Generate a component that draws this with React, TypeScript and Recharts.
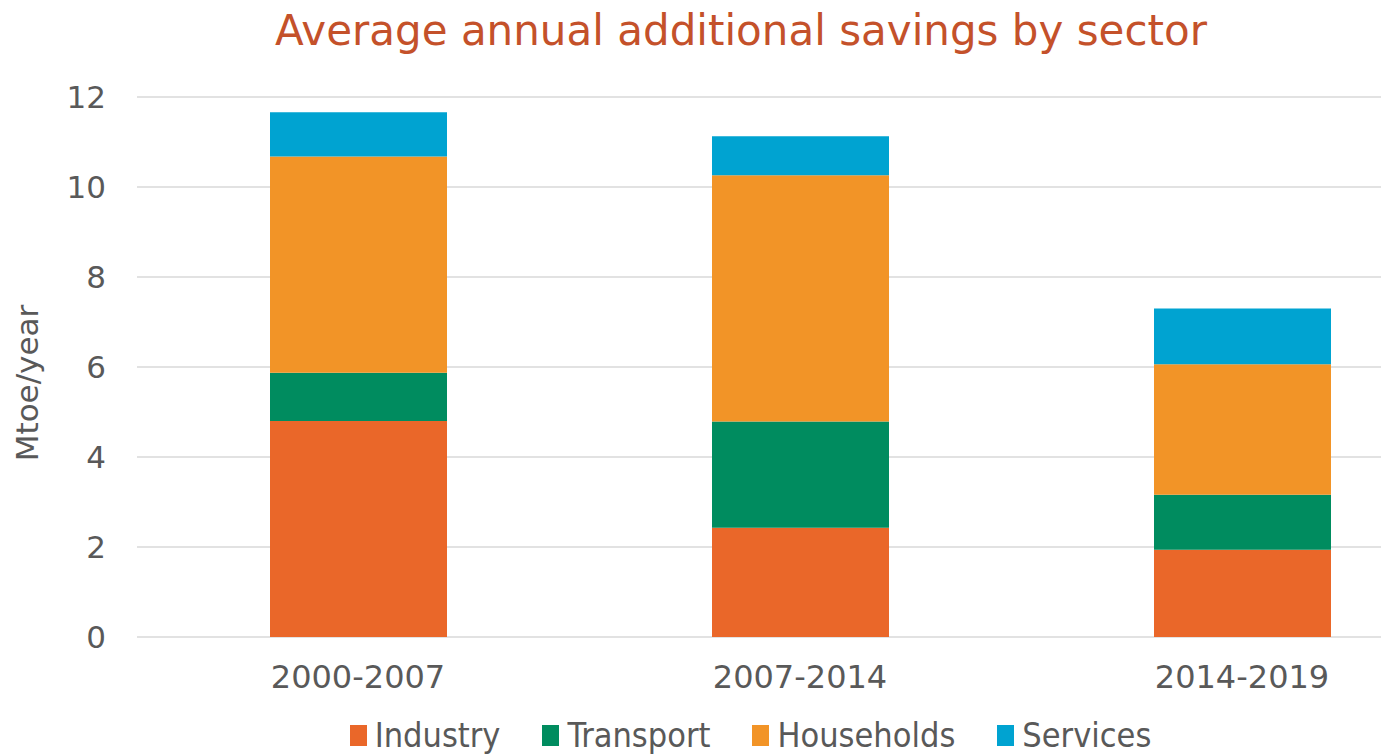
import { BarChart, Bar, XAxis, YAxis, CartesianGrid, Legend } from 'recharts'

const periods = ['2000-2007', '2007-2014', '2014-2019']
const industry = [4.8, 2.43, 1.94]
const transport = [1.07, 2.36, 1.22]
const households = [4.81, 5.47, 2.9]
const services = [0.98, 0.87, 1.24]
const yTicks = [0, 2, 4, 6, 8, 10, 12]

const SERIES = [
  { key: 'Industry', color: '#EA6729' },
  { key: 'Transport', color: '#008C5F' },
  { key: 'Households', color: '#F29427' },
  { key: 'Services', color: '#00A3D1' },
]

const data = periods.map((p, i) => ({
  period: p,
  Industry: industry[i],
  Transport: transport[i],
  Households: households[i],
  Services: services[i],
}))

const FONT = '"DejaVu Sans", Verdana, sans-serif'
const GREY = '#595959'

function LegendBox() {
  return (
    <div style={{ display: 'flex', justifyContent: 'center', gap: 42, height: 40, alignItems: 'center', paddingLeft: 28 }}>
      {SERIES.map(s => (
        <div key={s.key} style={{ display: 'flex', alignItems: 'center', gap: 8 }}>
          <span style={{ display: 'inline-block', width: 17, height: 21, background: s.color }} />
          <span style={{ fontFamily: '"DejaVu Sans Condensed", "DejaVu Sans", sans-serif', fontSize: 34, color: GREY, lineHeight: '40px' }}>{s.key}</span>
        </div>
      ))}
    </div>
  )
}

function YLabel() {
  return (
    <text x={27} y={383} transform="rotate(-90 27 383)" textAnchor="middle" dominantBaseline="central"
      fill={GREY} fontSize={31} fontFamily={FONT}>
      Mtoe/year
    </text>
  )
}

export default function App() {
  return (
    <div style={{ position: 'absolute', left: 0, top: 0, width: 1381, height: 755, overflow: 'hidden', background: '#fff' }}>
      <div style={{ position: 'absolute', left: 241, top: 6, width: 1000, textAlign: 'center', fontFamily: FONT, fontSize: 42, color: '#C4512A' }}>
        Average annual additional savings by sector
      </div>
      <BarChart
        width={1463}
        height={755}
        data={data}
        margin={{ top: 97, right: 0, left: 10, bottom: 10 }}
        barSize={177}
      >
        <CartesianGrid vertical={false} stroke="#d9d9d9" strokeWidth={1.5} />
        <XAxis
          dataKey="period"
          axisLine={false}
          tickLine={false}
          height={68}
          tickMargin={22}
          tick={{ fill: GREY, fontSize: 32, fontFamily: FONT }}
        />
        <YAxis
          domain={[0, 12]}
          ticks={yTicks}
          axisLine={false}
          tickLine={false}
          width={127}
          tickMargin={25}
          tick={{ fill: GREY, fontSize: 31, fontFamily: FONT }}
          label={<YLabel />}
        />
        <Legend verticalAlign="bottom" content={<LegendBox />} wrapperStyle={{ bottom: 0 }} />
        {SERIES.map(s => (
          <Bar key={s.key} dataKey={s.key} stackId="a" fill={s.color} isAnimationActive={false} />
        ))}
      </BarChart>
    </div>
  )
}
